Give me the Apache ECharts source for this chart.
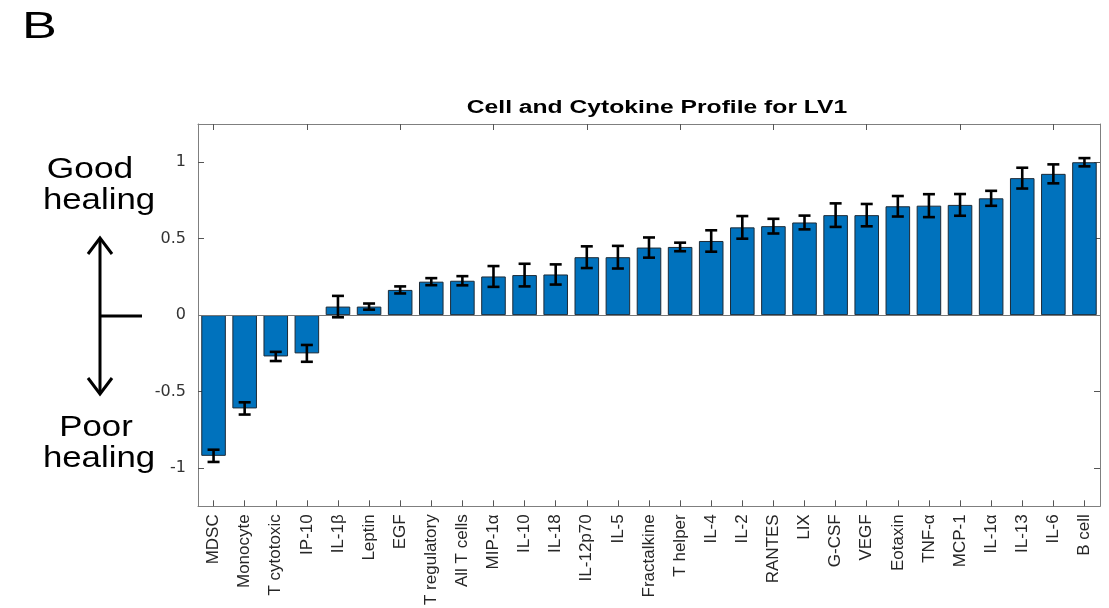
<!DOCTYPE html>
<html>
<head>
<meta charset="utf-8">
<script src="https://cdn.jsdelivr.net/npm/echarts@6/dist/echarts.min.js"></script>
<style>
  html, body { margin: 0; padding: 0; background: #fff; }
  #chart { width: 1109px; height: 608px; }
</style>
</head>
<body>
<div id="chart"></div>
<script>
// bar categories, sorted from poor to good healing
const categories = ['MDSC', 'Monocyte', 'T cytotoxic', 'IP-10', 'IL-1β', 'Leptin', 'EGF',
  'T regulatory', 'All T cells', 'MIP-1α', 'IL-10', 'IL-18', 'IL-12p70', 'IL-5', 'Fractalkine',
  'T helper', 'IL-4', 'IL-2', 'RANTES', 'LIX', 'G-CSF', 'VEGF', 'Eotaxin', 'TNF-α', 'MCP-1',
  'IL-1α', 'IL-13', 'IL-6', 'B cell'];
const values = [-0.92, -0.61, -0.27, -0.25, 0.056, 0.056, 0.165, 0.219, 0.225, 0.253, 0.262,
  0.266, 0.379, 0.379, 0.442, 0.446, 0.485, 0.574, 0.582, 0.606, 0.654, 0.654, 0.712, 0.716,
  0.721, 0.764, 0.896, 0.924, 1.0];
const errors = [0.04, 0.04, 0.03, 0.055, 0.07, 0.02, 0.023, 0.023, 0.03, 0.068, 0.074, 0.066,
  0.071, 0.074, 0.066, 0.028, 0.07, 0.074, 0.048, 0.045, 0.077, 0.073, 0.067, 0.075, 0.071,
  0.049, 0.068, 0.062, 0.027];
const yTicks = [-1, -0.5, 0, 0.5, 1];

const chart = echarts.init(document.getElementById('chart'));

const errData = values.map((v, i) => [i, v, errors[i]]);
const axisGrey = '#7f7f7f';
const labelFont = 'Liberation Sans, Arial, sans-serif';

const option = {
  animation: false,
  grid: { left: 198, right: 9, top: 124, bottom: 100 },
  graphic: [
    { type: 'text', x: 22, y: 28, scaleX: 1.45, style: { text: 'B', font: '36px Liberation Sans', fill: '#000', verticalAlign: 'middle' } },
    { type: 'text', x: 657, y: 108, scaleX: 1.37,
      style: { text: 'Cell and Cytokine Profile for LV1', font: 'bold 18px Liberation Sans', fill: '#000', align: 'center', verticalAlign: 'middle' } },
    { type: 'text', x: 90, y: 170, scaleX: 1.22, style: { text: 'Good', font: '29px Liberation Sans', fill: '#000', align: 'center', verticalAlign: 'middle' } },
    { type: 'text', x: 99, y: 201, scaleX: 1.2, style: { text: 'healing', font: '29px Liberation Sans', fill: '#000', align: 'center', verticalAlign: 'middle' } },
    { type: 'text', x: 96, y: 428, scaleX: 1.2, style: { text: 'Poor', font: '29px Liberation Sans', fill: '#000', align: 'center', verticalAlign: 'middle' } },
    { type: 'text', x: 99, y: 459, scaleX: 1.2, style: { text: 'healing', font: '29px Liberation Sans', fill: '#000', align: 'center', verticalAlign: 'middle' } },
    // double arrow with a stub pointing at zero
    { type: 'line', shape: { x1: 100, y1: 238, x2: 100, y2: 394 }, style: { stroke: '#000', lineWidth: 3 } },
    { type: 'line', shape: { x1: 100, y1: 316, x2: 142, y2: 316 }, style: { stroke: '#000', lineWidth: 3 } },
    { type: 'polyline', shape: { points: [[88, 254], [100, 238], [112, 254]] }, style: { stroke: '#000', lineWidth: 3, fill: null } },
    { type: 'polyline', shape: { points: [[88, 378], [100, 394], [112, 378]] }, style: { stroke: '#000', lineWidth: 3, fill: null } }
  ],
  xAxis: [
    {
      type: 'category',
      data: categories,
      boundaryGap: true,
      axisLine: { show: true, onZero: false, lineStyle: { color: axisGrey } },
      axisTick: { show: true, inside: true, alignWithLabel: true, length: 6, lineStyle: { color: '#555' } },
      axisLabel: { rotate: 90, interval: 0, margin: 8, color: '#262626', fontSize: 17, fontFamily: labelFont }
    },
    {
      type: 'category',
      position: 'top',
      data: categories,
      boundaryGap: true,
      axisLine: { show: true, onZero: false, lineStyle: { color: axisGrey } },
      axisTick: { show: true, inside: true, alignWithLabel: true, length: 6, lineStyle: { color: '#555' } },
      axisLabel: { show: false }
    }
  ],
  yAxis: [
    {
      type: 'value',
      min: -1.25,
      max: 1.25,
      axisLine: { show: true, onZero: false, lineStyle: { color: axisGrey } },
      axisTick: { show: true, inside: true, length: 6, customValues: yTicks, lineStyle: { color: '#555' } },
      axisLabel: { customValues: yTicks, margin: 12, color: '#333', fontSize: 16, fontFamily: 'DejaVu Sans' },
      splitLine: { show: false }
    },
    {
      type: 'value',
      position: 'right',
      min: -1.25,
      max: 1.25,
      axisLine: { show: true, onZero: false, lineStyle: { color: axisGrey } },
      axisTick: { show: true, inside: true, length: 6, customValues: yTicks, lineStyle: { color: '#555' } },
      axisLabel: { show: false },
      splitLine: { show: false }
    }
  ],
  series: [
    {
      type: 'bar',
      data: values,
      barWidth: '79%',
      itemStyle: { color: '#0072BD', borderColor: '#1c2a36', borderWidth: 1 },
      markLine: {
        silent: true,
        symbol: 'none',
        label: { show: false },
        lineStyle: { color: '#777', width: 1, type: 'solid' },
        data: [{ yAxis: 0 }]
      }
    },
    {
      type: 'custom',
      data: errData,
      encode: { x: 0, y: 1 },
      z: 5,
      renderItem: function (params, api) {
        const i = api.value(0);
        const v = api.value(1);
        const e = api.value(2);
        const hi = api.coord([i, v + e]);
        const lo = api.coord([i, v - e]);
        const cap = 6;
        const style = { stroke: '#000', lineWidth: 2.6 };
        return {
          type: 'group',
          children: [
            { type: 'line', shape: { x1: hi[0], y1: hi[1], x2: lo[0], y2: lo[1] }, style: style },
            { type: 'line', shape: { x1: hi[0] - cap, y1: hi[1], x2: hi[0] + cap, y2: hi[1] }, style: style },
            { type: 'line', shape: { x1: lo[0] - cap, y1: lo[1], x2: lo[0] + cap, y2: lo[1] }, style: style }
          ]
        };
      }
    }
  ]
};

chart.setOption(option);
window.addEventListener('resize', () => chart.resize());
</script>
</body>
</html>
